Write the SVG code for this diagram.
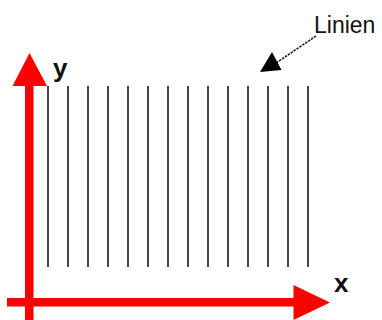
<svg xmlns="http://www.w3.org/2000/svg" width="382" height="320" viewBox="0 0 382 320">
<style>
.ln{stroke:#1a1a1a;stroke-width:1.6}
.ax{fill:#ff0000}
.lbl{font-family:"Liberation Sans",Arial,sans-serif;fill:#111}
</style>
<rect width="382" height="320" fill="#ffffff"/>
<g id="lines">
<line class="ln" x1="48" y1="86" x2="48" y2="267"/>
<line class="ln" x1="68" y1="86" x2="68" y2="267"/>
<line class="ln" x1="88" y1="86" x2="88" y2="267"/>
<line class="ln" x1="108" y1="86" x2="108" y2="267"/>
<line class="ln" x1="128" y1="86" x2="128" y2="267"/>
<line class="ln" x1="148" y1="86" x2="148" y2="267"/>
<line class="ln" x1="168" y1="86" x2="168" y2="267"/>
<line class="ln" x1="188" y1="86" x2="188" y2="267"/>
<line class="ln" x1="208" y1="86" x2="208" y2="267"/>
<line class="ln" x1="228" y1="86" x2="228" y2="267"/>
<line class="ln" x1="248" y1="86" x2="248" y2="267"/>
<line class="ln" x1="268" y1="86" x2="268" y2="267"/>
<line class="ln" x1="288" y1="86" x2="288" y2="267"/>
<line class="ln" x1="308" y1="86" x2="308" y2="267"/>
</g>
<g id="y-axis">
<rect class="ax" x="25" y="85" width="8.5" height="235"/>
<polygon class="ax" points="29.5,53 47,86 12.5,86"/>
<text class="lbl" x="53" y="77" font-size="26" font-weight="bold">y</text>
</g>
<g id="x-axis">
<rect class="ax" x="7" y="298" width="288" height="8.5"/>
<polygon class="ax" points="293.5,285 330,302.5 293.5,320"/>
<text class="lbl" x="334" y="292" font-size="26" font-weight="bold">x</text>
</g>
<g id="connectors">
<line x1="316" y1="36" x2="276" y2="63" stroke="#111" stroke-width="1.5" stroke-dasharray="2.5,1"/>
<polygon points="260,72 272,52 281.5,70" fill="#000"/>
</g>
<g id="label-linien">
<text class="lbl" x="314" y="33" font-size="23">Linien</text>
</g>
</svg>
